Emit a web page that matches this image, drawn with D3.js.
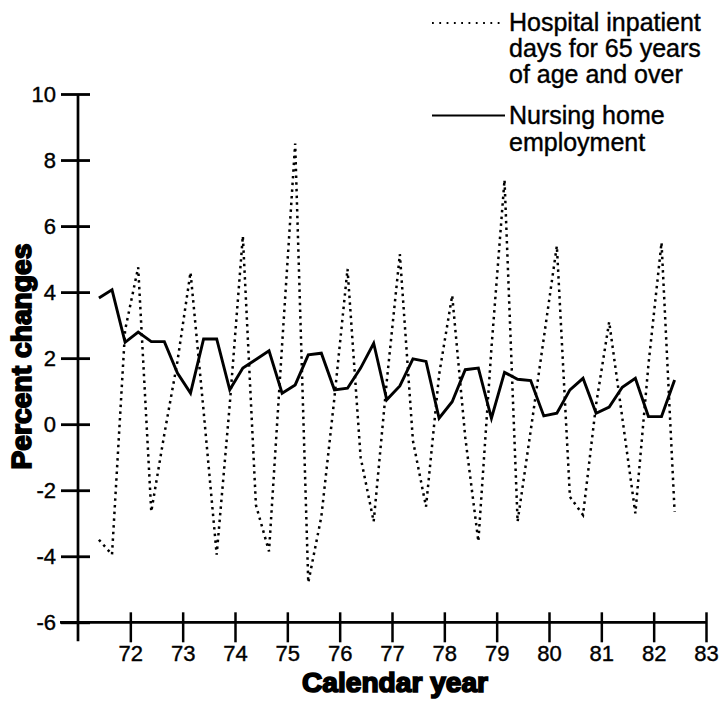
<!DOCTYPE html>
<html>
<head>
<meta charset="utf-8">
<script src="https://cdn.jsdelivr.net/npm/d3@7"></script>
<style>
  body { margin: 0; background: #fff; }
  svg { display: block; }
</style>
</head>
<body>
<div id="chart"></div>
<script>
// quarterly observations, 1971 Q2 through 1982 Q2
const periods = [
    "71Q2", "71Q3", "71Q4",
    "72Q1", "72Q2", "72Q3", "72Q4",
    "73Q1", "73Q2", "73Q3", "73Q4",
    "74Q1", "74Q2", "74Q3", "74Q4",
    "75Q1", "75Q2", "75Q3", "75Q4",
    "76Q1", "76Q2", "76Q3", "76Q4",
    "77Q1", "77Q2", "77Q3", "77Q4",
    "78Q1", "78Q2", "78Q3", "78Q4",
    "79Q1", "79Q2", "79Q3", "79Q4",
    "80Q1", "80Q2", "80Q3", "80Q4",
    "81Q1", "81Q2", "81Q3", "81Q4",
    "82Q1", "82Q2"
];
// hospital inpatient days, 65 and over (percent change)
const hospitalDays = [
    -3.5, -3.95, 2.85,
    4.75, -2.65, -0.3, 1.9,
    4.6, 0.4, -3.95, 0.6,
    5.7, -2.45, -3.85, 2.4,
    8.5, -4.8, -2.8, 0.8,
    4.7, -1.0, -2.95, 1.3,
    5.15, -0.5, -2.5, 1.5,
    3.9, -0.4, -3.55, 2.3,
    7.4, -2.95, -0.2, 2.6,
    5.4, -2.2, -2.75, 0.6,
    3.1, 0.2, -2.7, 1.8,
    5.5, -2.65
];
// nursing home employment (percent change)
const nursingEmployment = [
    3.82, 4.07, 2.48,
    2.79, 2.5, 2.5, 1.55,
    0.94, 2.58, 2.58, 1.04,
    1.7, 1.96, 2.22, 0.94,
    1.19, 2.1, 2.15, 1.04,
    1.09, 1.7, 2.45, 0.74,
    1.16, 1.98, 1.9, 0.18,
    0.68, 1.65, 1.7, 0.18,
    1.57, 1.36, 1.32, 0.25,
    0.33, 1.04, 1.39, 0.33,
    0.52, 1.12, 1.39, 0.23,
    0.23, 1.34
];
const yTicks = [-6, -4, -2, 0, 2, 4, 6, 8, 10];
const xTicks = [72, 73, 74, 75, 76, 77, 78, 79, 80, 81, 82, 83];
const legendHospital = ["Hospital inpatient", "days for 65 years", "of age and over"];
const legendNursing = ["Nursing home", "employment"];

const width = 725, height = 701;
const font = "'Liberation Sans', Arial, Helvetica, sans-serif";

let svg = d3.select("#chart")
    .append("svg")
    .attr("width", width)
    .attr("height", height);

let x = d3.scaleLinear().domain([71, 83]).range([78, 706]);
let y = d3.scaleLinear().domain([-6, 10]).range([622.3, 94]);

// "75Q3" -> 75.65, points sit a bit past the start of each quarter
function periodToYear(p) {
    let yr = +p.slice(0, 2);
    let q = +p.slice(3);
    return yr + (q - 0.4) / 4;
}

// axis lines (y axis runs a little below the x axis, x axis a little left of the y axis)
svg.append("line")
    .attr("x1", x(71)).attr("x2", x(71))
    .attr("y1", y(10)).attr("y2", y(-6) + 19)
    .attr("stroke", "#000").attr("stroke-width", 2.7);
svg.append("line")
    .attr("x1", x(71) - 18).attr("x2", x(83))
    .attr("y1", y(-6)).attr("y2", y(-6))
    .attr("stroke", "#000").attr("stroke-width", 2.7);

let yAxis = svg.append("g")
    .attr("transform", "translate(" + x(71) + ",0)")
    .call(d3.axisLeft(y).tickValues(yTicks).tickSize(17).tickSizeOuter(0).tickPadding(5)
        .tickFormat(d => String(d)));
yAxis.select(".domain").remove();
yAxis.selectAll(".tick line").attr("x1", 12).attr("stroke-width", 2.8);
yAxis.selectAll(".tick text")
    .attr("font-family", font).attr("font-size", 22).attr("fill", "#000")
    .attr("stroke", "#000").attr("stroke-width", 0.4);

let xAxis = svg.append("g")
    .attr("transform", "translate(0," + y(-6) + ")")
    .call(d3.axisBottom(x).tickValues(xTicks).tickSize(20).tickSizeOuter(0).tickPadding(3.4)
        .tickFormat(d => String(d)));
xAxis.select(".domain").remove();
xAxis.selectAll(".tick line").attr("y1", -10).attr("stroke-width", 2.5);
xAxis.selectAll(".tick text")
    .attr("font-family", font).attr("font-size", 22).attr("fill", "#000")
    .attr("stroke", "#000").attr("stroke-width", 0.4);

// axis titles
svg.append("text")
    .attr("x", 395).attr("y", 691.5)
    .attr("text-anchor", "middle")
    .attr("font-family", font).attr("font-size", 28).attr("font-weight", 700)
    .attr("stroke", "#000").attr("stroke-width", 1.7)
    .attr("textLength", 186).attr("lengthAdjust", "spacingAndGlyphs")
    .text("Calendar year");
svg.append("text")
    .attr("transform", "translate(31,356.5) rotate(-90)")
    .attr("text-anchor", "middle")
    .attr("font-family", font).attr("font-size", 28).attr("font-weight", 700)
    .attr("stroke", "#000").attr("stroke-width", 1.7)
    .attr("textLength", 226).attr("lengthAdjust", "spacingAndGlyphs")
    .text("Percent changes");

// series
let line = d3.line()
    .x((d, i) => x(periodToYear(periods[i])))
    .y(d => y(d));

svg.append("path")
    .datum(hospitalDays)
    .attr("d", line)
    .attr("fill", "none")
    .attr("stroke", "#000")
    .attr("stroke-width", 2.5)
    .attr("stroke-dasharray", "2.5 4.2");

svg.append("path")
    .datum(nursingEmployment)
    .attr("d", line)
    .attr("fill", "none")
    .attr("stroke", "#000")
    .attr("stroke-width", 2.9)
    .attr("stroke-linejoin", "miter");

// legend
let legend = svg.append("g").attr("font-family", font).attr("font-size", 25).attr("fill", "#000");
legend.append("line")
    .attr("x1", 432).attr("x2", 505).attr("y1", 23).attr("y2", 23)
    .attr("stroke", "#000").attr("stroke-width", 1.8).attr("stroke-dasharray", "1.8 5.5");
legend.selectAll("text.hosp")
    .data(legendHospital)
    .enter().append("text")
    .attr("class", "hosp")
    .attr("x", 509)
    .attr("y", (d, i) => 31 + i * 26)
    .attr("stroke", "#000").attr("stroke-width", 0.4)
    .text(d => d);
legend.append("line")
    .attr("x1", 432).attr("x2", 505).attr("y1", 115.5).attr("y2", 115.5)
    .attr("stroke", "#000").attr("stroke-width", 2);
legend.selectAll("text.nurs")
    .data(legendNursing)
    .enter().append("text")
    .attr("class", "nurs")
    .attr("x", 509)
    .attr("y", (d, i) => 124 + i * 26.7)
    .attr("stroke", "#000").attr("stroke-width", 0.4)
    .text(d => d);
</script>
</body>
</html>
